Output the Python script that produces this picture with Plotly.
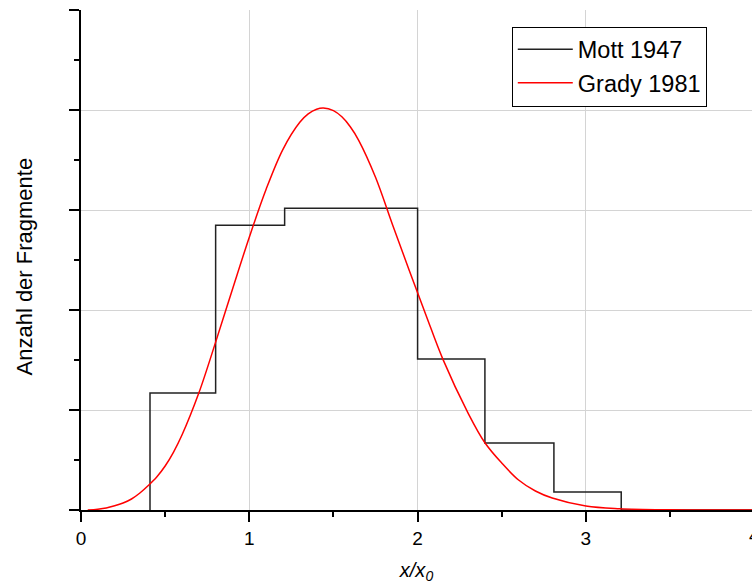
import plotly.graph_objects as go

# Histogram (Mott 1947): bin edges and bin heights
mott_edges = [0.41, 0.80, 1.21, 1.60, 2.00, 2.40, 2.81, 3.21, 4.00]
mott_heights = [1.17, 2.85, 3.02, 3.02, 1.51, 0.67, 0.18, 0.0]

# Curve (Grady 1981)
grady_x = [0.04, 0.1, 0.15, 0.2, 0.25, 0.3, 0.35, 0.4, 0.45, 0.5, 0.55, 0.6, 0.7, 0.8,
           0.9, 1.0, 1.1, 1.2, 1.3, 1.35, 1.4, 1.44, 1.5, 1.55, 1.6, 1.65, 1.75, 1.85,
           1.95, 2.05, 2.15, 2.3, 2.4, 2.5, 2.6, 2.7, 2.8, 3.0, 3.2, 3.5, 4.0]
grady_y = [0.0, 0.008, 0.02, 0.042, 0.07, 0.11, 0.17, 0.245, 0.33, 0.44, 0.58, 0.75,
           1.17, 1.68, 2.21, 2.73, 3.21, 3.61, 3.88, 3.964, 4.011, 4.023, 3.997, 3.935,
           3.836, 3.70, 3.33, 2.86, 2.40, 1.95, 1.51, 0.97, 0.673, 0.47, 0.30, 0.19,
           0.12, 0.04, 0.013, 0.002, 0.0]

x_ticks = [0, 1, 2, 3, 4]
x_tick_text = ["0", "1", "2", "3", "4"]
XMAX = 3.987
YMAX = 5.004

FONT = "Liberation Sans, Arial, sans-serif"

fig = go.Figure()

# step line for histogram
hx = [mott_edges[0]] + mott_edges[:-1] + [mott_edges[-1]]
hy = [0] + mott_heights + [0]
fig.add_trace(go.Scatter(x=hx, y=hy, mode="lines", line_shape="hv",
                         line=dict(color="#222222", width=1.5), name="Mott 1947"))
fig.add_trace(go.Scatter(x=grady_x, y=grady_y, mode="lines", line_shape="spline",
                         line=dict(color="#ff0000", width=1.5, smoothing=1.0),
                         name="Grady 1981"))

fig.update_layout(
    width=752, height=588,
    margin=dict(l=81, r=0, t=10, b=78),
    paper_bgcolor="white", plot_bgcolor="white",
    font=dict(family=FONT, color="black", size=19),
    showlegend=True,
    legend=dict(x=0.642, y=0.887, xanchor="left", yanchor="middle",
                bgcolor="white", bordercolor="black", borderwidth=1,
                font=dict(size=23.5, family=FONT, color="black"),
                itemwidth=55, tracegroupgap=0),
    xaxis=dict(range=[0, XMAX], tickvals=x_ticks[:-1], ticktext=x_tick_text[:-1],
               showline=True, linecolor="black", linewidth=2,
               ticks="outside", ticklen=10, tickwidth=2, tickcolor="black",
               showgrid=True, gridcolor="#d4d4d4", gridwidth=1, zeroline=False,
               minor=dict(dtick=0.5, tick0=0, ticks="outside", ticklen=5, tickwidth=2,
                          tickcolor="black", showgrid=False),
               tickfont=dict(size=19),
               title=dict(text="<i>x/x<sub>0</sub></i>", font=dict(size=20), standoff=15)),
    yaxis=dict(range=[0, YMAX], dtick=1, tick0=0, showticklabels=False,
               showline=True, linecolor="black", linewidth=2,
               ticks="outside", ticklen=10, tickwidth=2, tickcolor="black",
               showgrid=True, gridcolor="#d4d4d4", gridwidth=1, zeroline=False,
               minor=dict(dtick=0.5, tick0=0, ticks="outside", ticklen=5, tickwidth=2,
                          tickcolor="black", showgrid=False)),
)

# y-axis title
fig.add_annotation(x=0, y=0.486, xref="paper", yref="paper", text="Anzahl der Fragmente",
                   textangle=-90, showarrow=False, xshift=-57.5, xanchor="center",
                   yanchor="middle", font=dict(size=22, family=FONT, color="black"))

# partially visible last tick label at right edge
fig.add_annotation(x=x_ticks[-1] / XMAX, y=0, xref="paper", yref="paper",
                   text=x_tick_text[-1], showarrow=False, yshift=-25, xanchor="center",
                   yanchor="middle", font=dict(size=19, family=FONT, color="black"))

fig.write_html("out.html")
